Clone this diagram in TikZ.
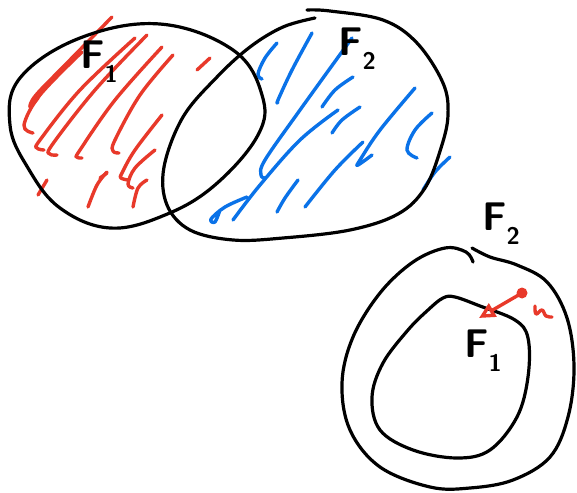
\documentclass[tikz,border=0pt]{standalone}
\usetikzlibrary{arrows.meta}
\definecolor{hred}{HTML}{E8392A}
\definecolor{hblue}{HTML}{0A72E8}
\tikzset{
  outline/.style={draw=black, line width=3.2pt, line cap=round, line join=round},
  redstroke/.style={draw=hred, line width=3.4pt, line cap=round, line join=round},
  bluestroke/.style={draw=hblue, line width=3.4pt, line cap=round, line join=round},
  hlabel/.style={font=\fontsize{40}{40}\selectfont\sffamily\bfseries, inner sep=0pt}
}
\begin{document}
\begin{tikzpicture}[x=1pt, y=-1pt]
\useasboundingbox[fill=white] (0,0) rectangle (577,492);

% red hatching (F1)
\draw[redstroke] plot[smooth, tension=0.6] coordinates {(112,17) (67,63) (36,95) (30,107) (38,98)};
\draw[redstroke] plot[smooth, tension=0.6] coordinates {(82,52) (40,95) (24,125) (33,133)};
\draw[redstroke] plot[smooth, tension=0.6] coordinates {(135,38) (80,90) (40,140) (37,148) (44,150)};
\draw[redstroke] plot[smooth, tension=0.6] coordinates {(147,35) (95,90) (52,145) (50,154) (57,155)};
\draw[redstroke] plot[smooth, tension=0.6] coordinates {(162,47) (115,100) (80,150) (77,157) (82,158)};
\draw[redstroke] plot[smooth, tension=0.6] coordinates {(173,55) (140,95) (115,140) (113,151) (119,153)};
\draw[redstroke] (210,58) -- (197,70);
\draw[redstroke] plot[smooth, tension=0.6] coordinates {(162,115) (135,150) (122,173) (121,178) (128,180)};
\draw[redstroke] plot[smooth, tension=0.6] coordinates {(155,150) (135,168) (128,184) (133,188)};
\draw[redstroke] plot[smooth, tension=0.6] coordinates {(147,180) (138,188) (133,207)};
\draw[redstroke] plot[smooth, tension=0.6] coordinates {(107,172) (97,185) (88,207)};
\draw[redstroke] (100,178) -- (107,173);
\draw[redstroke] (47,180) -- (38,195);

% blue hatching (F2)
\draw[bluestroke] plot[smooth, tension=0.6] coordinates {(277,43) (265,58) (258,74) (262,79)};
\draw[bluestroke] plot[smooth, tension=0.6] coordinates {(312,33) (292,70) (278,100) (278,102)};
\draw[bluestroke] plot[smooth, tension=0.6] coordinates {(352,38) (300,110) (265,160) (261,175) (265,178)};
\draw[bluestroke] plot[smooth, tension=0.6] coordinates {(353,77) (335,90) (322,107)};
\draw[bluestroke] plot[smooth, tension=0.6] coordinates {(338,110) (300,140) (260,185) (233,220)};
\draw[bluestroke] plot[smooth, tension=0.6] coordinates {(360,107) (342,120) (332,133)};
\draw[bluestroke] plot[smooth, tension=0.6] coordinates {(363,142) (335,170) (305,207)};
\draw[bluestroke] plot[smooth, tension=0.6] coordinates {(298,180) (285,198) (277,212)};
\draw[bluestroke] plot[smooth, tension=0.6] coordinates {(415,88) (380,130) (360,160) (358,165) (372,155)};
\draw[bluestroke] plot[smooth, tension=0.6] coordinates {(432,113) (415,130) (407,150) (417,158)};
\draw[bluestroke] plot[smooth, tension=0.6] coordinates {(450,157) (435,172) (423,190)};
\draw[bluestroke] plot[smooth, tension=0.6] coordinates {(247,197) (225,207) (211,219) (215,222) (220,210)};

% F1 outline (upper left)
\draw[outline] plot[smooth cycle, tension=0.65] coordinates {
  (80,38) (160,24) (233,50) (262,95) (258,135) (215,185) (165,215)
  (110,228) (60,208) (28,168) (10,125) (20,78)};
% F2 outline (upper right)
\draw[outline] plot[smooth, tension=0.6] coordinates {
  (307,10) (330,11) (383,20) (417,43) (443,83) (448,115) (441,148) (425,188)
  (398,214) (350,230) (283,238) (233,240) (190,230) (167,205) (164,167)
  (183,117) (217,77) (250,47) (283,27) (315,18)};

\node[hlabel] (f1a) at (99,62) {F\raisebox{-0.35em}{\fontsize{24}{24}\selectfont 1}};
\node[hlabel] (f2a) at (357,49) {F\raisebox{-0.35em}{\fontsize{24}{24}\selectfont 2}};

% lower right: nested sets
\draw[outline] plot[smooth, tension=0.6] coordinates {
  (473,262) (466,252) (445,248) (413,262) (380,293) (353,337) (342,383)
  (350,430) (380,467) (430,487) (470,488) (513,480) (550,457) (568,417)
  (574,367) (567,318) (547,282) (517,265) (490,257) (472,248)};
\draw[outline] plot[smooth cycle, tension=0.6] coordinates {
  (443,298) (455,297) (480,306) (515,320) (528,338) (528,377) (517,417)
  (490,450) (457,458) (413,450) (380,430) (372,397) (383,363) (408,330) (428,310)};

\node[hlabel] (f2b) at (501,224) {F\raisebox{-0.35em}{\fontsize{24}{24}\selectfont 2}};
\node[hlabel] (f1b) at (483,351) {F\raisebox{-0.35em}{\fontsize{24}{24}\selectfont 1}};

% red arrow and squiggle
\coordinate (dot) at (522,293);
\coordinate (tip) at (479,318);
\fill[hred] (dot) circle (5.5pt);
\draw[redstroke, -{Triangle[open, length=16pt, width=15pt]}] (dot) -- (tip);
\draw[redstroke] plot[smooth, tension=0.7] coordinates {(535,306) (536,314) (542,310) (546,316) (552,317)};
\end{tikzpicture}
\end{document}
